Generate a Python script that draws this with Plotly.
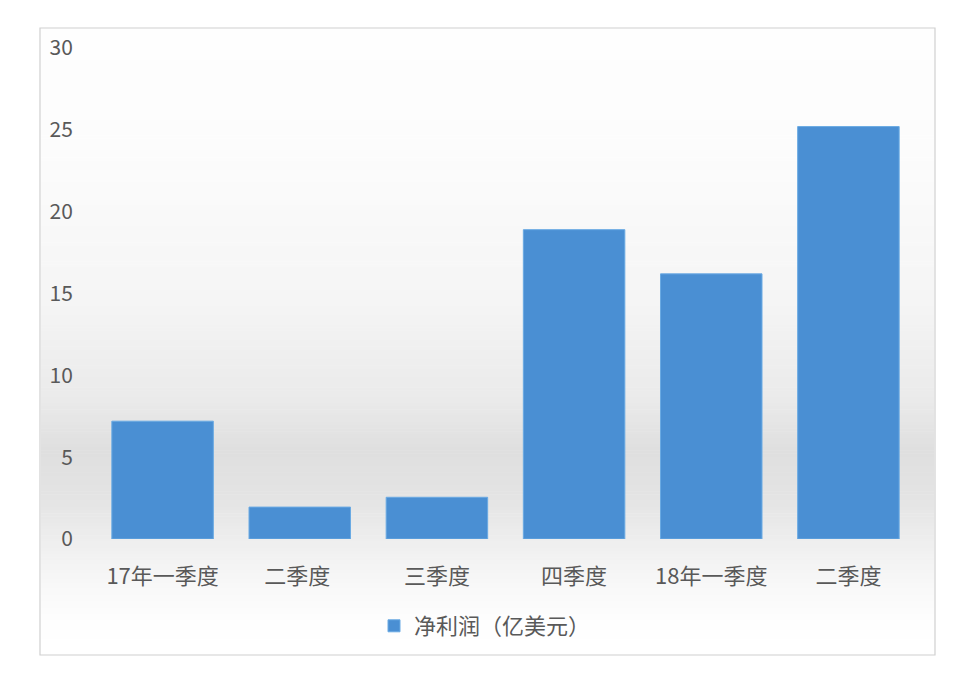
import numpy as np
import plotly.graph_objects as go

categories = ["17年一季度", "二季度 ", "三季度", "四季度", "18年一季度", "二季度"]
net_profit = [7.2, 1.95, 2.55, 18.9, 16.2, 25.2]
series_name = "净利润（亿美元）"
y_ticks = [0, 5, 10, 15, 20, 25, 30]

FONT = "Noto Sans CJK SC, Microsoft YaHei, sans-serif"
OFF = 8  # page offset of the rendered figure

fig = go.Figure()
fig.add_trace(go.Bar(
    x=categories, y=net_profit, name=series_name,
    marker=dict(color="#4a8fd3", line=dict(color="#6aaae3", width=1)),
    showlegend=True,
))

# target pixel geometry (as seen in the screenshot)
L, R, T, B = 94 - OFF, 917 - OFF, 48 - OFF, 539 - OFF
def px_y(p):
    p = p - OFF
    return (B - p) / (B - T)
def px_x(p):
    p = p - OFF
    return (p - L) / (R - L)

stops_px = [28, 150, 300, 400, 450, 500, 540, 585, 625, 655]
stops_c = [254, 252, 245, 234, 223, 228, 238, 248, 254, 255]
shapes = []
edges = np.linspace(28, 655, 200)
for a, b in zip(edges[:-1], edges[1:]):
    c = int(round(np.interp((a + b) / 2, stops_px, stops_c)))
    shapes.append(dict(type="rect", xref="paper", yref="paper",
                       x0=px_x(41), x1=px_x(934), y0=px_y(b + 0.5), y1=px_y(a),
                       fillcolor=f"rgb({c},{c},{c})", line=dict(width=0), layer="below"))
shapes.append(dict(type="rect", xref="paper", yref="paper",
                   x0=px_x(40), x1=px_x(935), y0=px_y(655), y1=px_y(28),
                   line=dict(color="#d0d0d0", width=1.2), fillcolor="rgba(0,0,0,0)", layer="above"))

fig.update_layout(
    width=962, height=674,
    margin=dict(l=L, r=962 - R, t=T, b=674 - B),
    paper_bgcolor="white", plot_bgcolor="rgba(0,0,0,0)",
    font=dict(family=FONT, size=22, color="#595959"),
    bargap=0.26,
    shapes=shapes,
    legend=dict(orientation="h", x=px_x(485), xanchor="center", y=px_y(626), yanchor="middle",
                font=dict(size=22, color="#595959"), bgcolor="rgba(0,0,0,0)"),
    xaxis=dict(showline=False, showgrid=False, zeroline=False, ticks="outside", ticklen=18,
               tickcolor="rgba(0,0,0,0)", tickfont=dict(size=22, color="#595959")),
    yaxis=dict(range=[0, 30], tickvals=y_ticks, showgrid=False, zeroline=False, showline=False,
               ticks="outside", ticklen=16, tickcolor="rgba(0,0,0,0)",
               tickfont=dict(size=21, color="#595959")),
)

fig.write_html("out.html")
